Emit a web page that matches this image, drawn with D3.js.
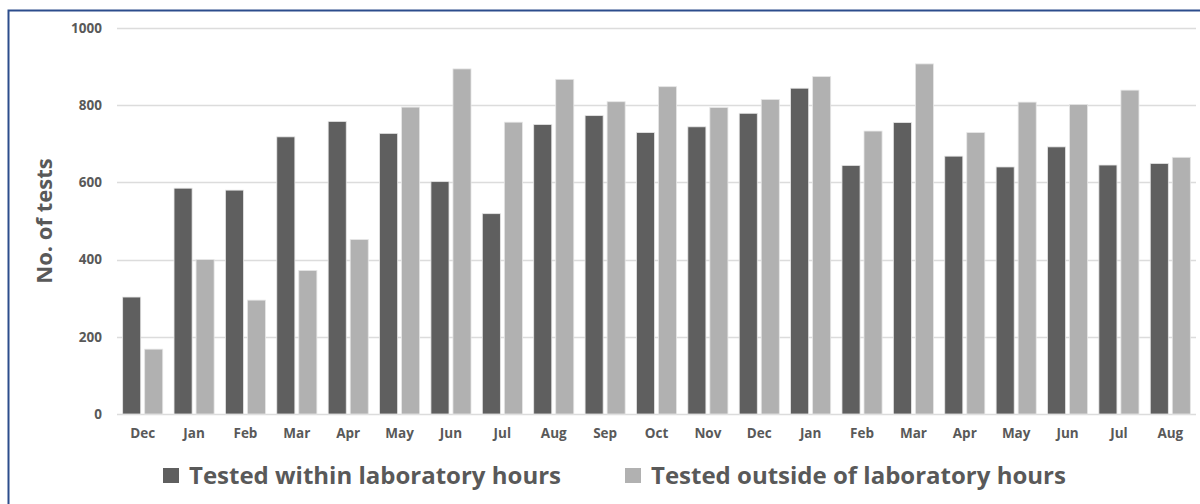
<!DOCTYPE html>
<html>
<head>
<meta charset="utf-8">
<script src="https://cdn.jsdelivr.net/npm/d3@7"></script>
<style>
  html, body { margin: 0; padding: 0; background: #fff; }
  svg { display: block; font-family: "Open Sans", Lato, sans-serif; }
  .tick-label { fill: #595959; font-weight: bold; font-size: 13.5px; }
</style>
</head>
<body>
<div id="chart"></div>
<script>
// Months, Dec through the following-year Aug
const months = ['Dec', 'Jan', 'Feb', 'Mar', 'Apr', 'May', 'Jun', 'Jul', 'Aug', 'Sep', 'Oct',
    'Nov', 'Dec', 'Jan', 'Feb', 'Mar', 'Apr', 'May', 'Jun', 'Jul', 'Aug'];
const seriesNames = ['Tested within laboratory hours', 'Tested outside of laboratory hours'];
const withinHours = [303, 585, 580, 718, 758, 727, 602, 519, 750, 773, 729,
    744, 779, 844, 644, 755, 668, 640, 692, 645, 649];
const outsideHours = [168, 400, 295, 372, 452, 795, 894, 756, 867, 809, 848,
    794, 815, 874, 733, 907, 729, 808, 802, 839, 665];
const yTicks = [0, 200, 400, 600, 800, 1000];

const colors = ['#5f5f5f', '#b1b1b1'];

const width = 1200, height = 504;
const margin = { top: 28, right: 4, bottom: 90, left: 117 };

const svg = d3.select('#chart').append('svg')
    .attr('width', width)
    .attr('height', height);

// frame: top and left edge only
svg.append('path')
    .attr('d', `M8.5,${height} L8.5,10.5 L${width},10.5`)
    .attr('fill', 'none')
    .attr('stroke', '#2c4d8c')
    .attr('stroke-width', 2);

const xScale = d3.scaleBand()
    .domain(d3.range(months.length))
    .range([margin.left, width - margin.right])
    .paddingInner(0.22)
    .paddingOuter(0.11);

const xInner = d3.scaleBand()
    .domain([0, 1])
    .range([0, xScale.bandwidth()])
    .paddingInner(0.18);

const yScale = d3.scaleLinear()
    .domain([0, 1000])
    .range([414, 28]);

// gridlines
svg.append('g')
    .selectAll('line')
    .data(yTicks)
    .join('line')
    .attr('x1', margin.left)
    .attr('x2', width - margin.right)
    .attr('y1', d => Math.round(yScale(d)) + 0.5)
    .attr('y2', d => Math.round(yScale(d)) + 0.5)
    .attr('stroke', '#dcdcdc')
    .attr('stroke-width', 1.5);

// y axis labels
const yAxis = d3.axisLeft(yScale).tickValues(yTicks).tickFormat(d3.format('d')).tickSize(0).tickPadding(15);
const yG = svg.append('g')
    .attr('transform', `translate(${margin.left},0)`)
    .call(yAxis)
    .attr('font-family', null)
    .attr('font-size', null);
yG.select('.domain').remove();
yG.selectAll('text').attr('class', 'tick-label');

// bars
const rows = months.map((m, i) => ({ i, values: [withinHours[i], outsideHours[i]] }));
svg.append('g')
    .selectAll('g')
    .data(rows)
    .join('g')
    .attr('transform', d => `translate(${xScale(d.i)},0)`)
    .selectAll('rect')
    .data(d => d.values.map((v, s) => ({ s, v })))
    .join('rect')
    .attr('x', d => xInner(d.s))
    .attr('width', xInner.bandwidth())
    .attr('y', d => yScale(d.v))
    .attr('height', d => yScale(0) - yScale(d.v))
    .attr('fill', d => colors[d.s])
    .attr('stroke', '#e6e6e6')
    .attr('stroke-width', 0.8);

// x axis
const xAxis = d3.axisBottom(xScale).tickFormat(i => months[i]).tickSize(0).tickPadding(14);
const xG = svg.append('g')
    .attr('transform', `translate(0,${yScale(0)})`)
    .call(xAxis)
    .attr('font-family', null)
    .attr('font-size', null);
xG.select('.domain').remove();
xG.selectAll('text').attr('class', 'tick-label');

// axis title
svg.append('text')
    .attr('transform', `translate(52, 221) rotate(-90)`)
    .attr('text-anchor', 'middle')
    .attr('fill', '#595959')
    .attr('font-weight', 'bold')
    .attr('font-size', 22)
    .text('No. of tests');

// legend
const legendX = [163, 625];
const legend = svg.append('g')
    .selectAll('g')
    .data(seriesNames)
    .join('g')
    .attr('transform', (d, i) => `translate(${legendX[i]}, 468)`);
legend.append('rect')
    .attr('width', 16)
    .attr('height', 15)
    .attr('fill', (d, i) => colors[i]);
legend.append('text')
    .attr('x', 26)
    .attr('y', 15.5)
    .attr('fill', '#595959')
    .attr('font-weight', 'bold')
    .attr('font-size', 24)
    .text(d => d);
</script>
</body>
</html>
